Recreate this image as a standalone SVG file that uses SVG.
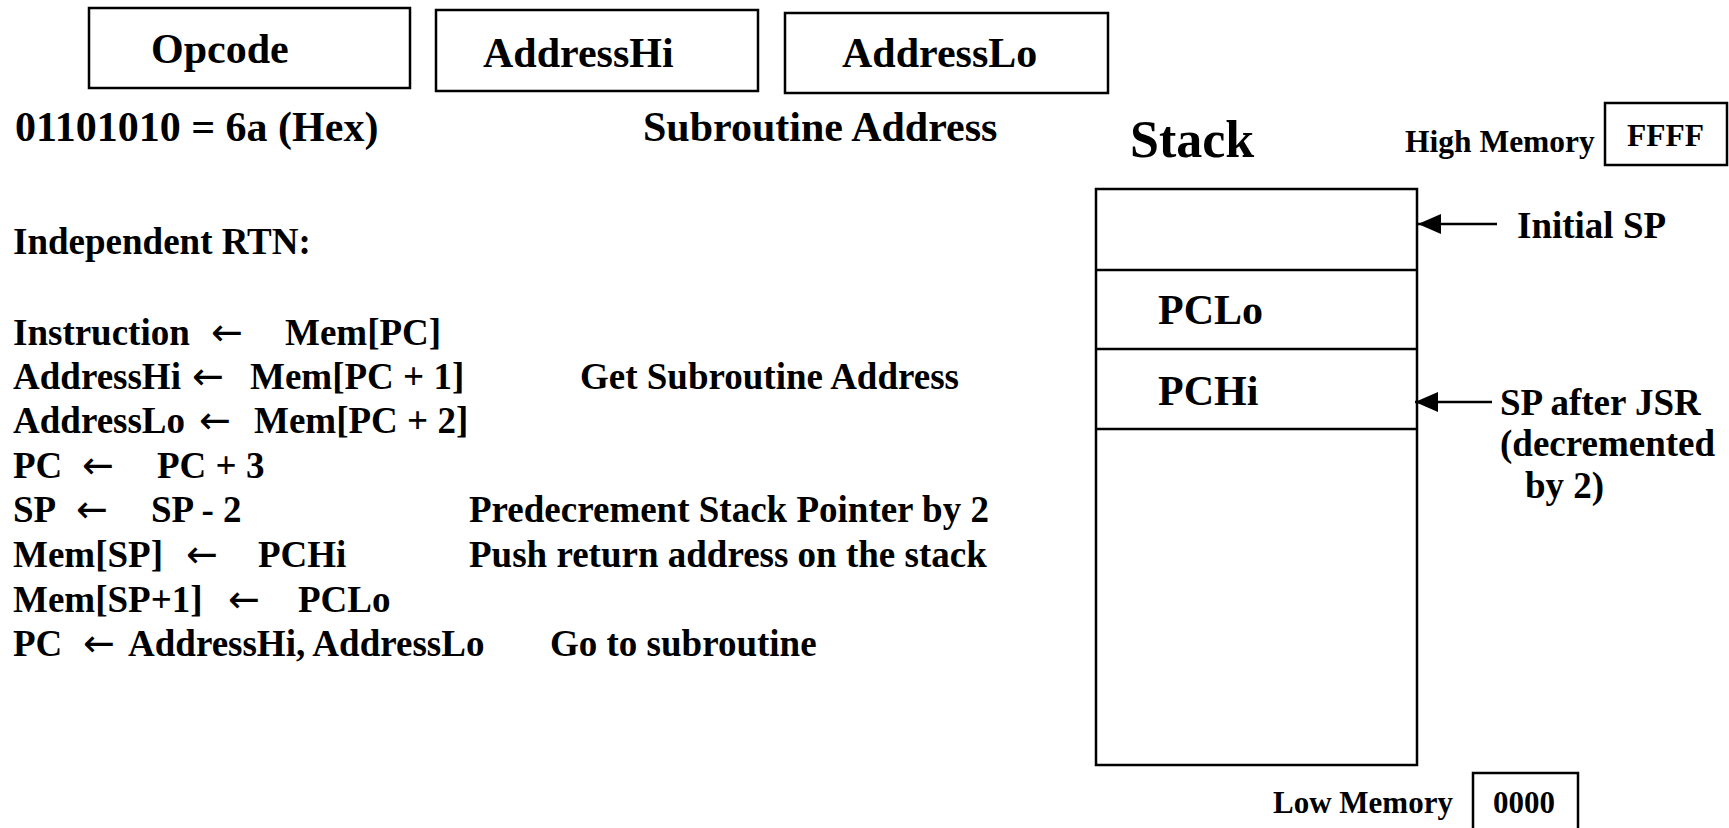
<svg xmlns="http://www.w3.org/2000/svg" width="1729" height="828" viewBox="0 0 1729 828">
<defs>
<style>
text{font-family:"Liberation Serif","Times New Roman",serif;font-weight:bold;fill:#000}
.t42{font-size:42px}
.t37{font-size:37px}
.t52{font-size:52px}
.t32{font-size:31.5px}
.t31{font-size:31px}
.arr{font-family:"DejaVu Sans",sans-serif;font-weight:normal;font-size:38px}
.box{fill:#fff;stroke:#000;stroke-width:2.5}
.ln{stroke:#000;stroke-width:2.5;fill:none}
</style>
<marker id="ah" viewBox="0 0 23 20" refX="23" refY="10" markerWidth="23" markerHeight="20" markerUnits="userSpaceOnUse" orient="auto">
<path d="M0,0 L23,10 L0,20 Z" fill="#000"/>
</marker>
</defs>
<rect width="1729" height="828" fill="#fff"/>

<g id="opcode">
<rect class="box" x="89" y="8" width="321" height="80"/>
<text class="t42" x="151" y="63">Opcode</text>
</g>
<g id="addressHi">
<rect class="box" x="436" y="10" width="322" height="81"/>
<text class="t42" x="483" y="67">AddressHi</text>
</g>
<g id="addressLo">
<rect class="box" x="785" y="13" width="323" height="80"/>
<text class="t42" x="842" y="67">AddressLo</text>
</g>
<g id="opcode-value">
<text class="t42" x="15" y="141">01101010 = 6a (Hex)</text>
</g>
<g id="subroutine-address">
<text class="t42" x="643" y="141">Subroutine Address</text>
</g>

<g id="rtn">
<text class="t37" x="13" y="254">Independent RTN:</text>
<text class="t37" x="13" y="345">Instruction</text><text class="arr" x="211" y="345">←</text><text class="t37" x="285" y="345">Mem[PC]</text>
<text class="t37" x="13" y="389">AddressHi</text><text class="arr" x="192" y="389">←</text><text class="t37" x="250" y="389">Mem[PC + 1]</text>
<text class="t37" x="580" y="389">Get Subroutine Address</text>
<text class="t37" x="13" y="433">AddressLo</text><text class="arr" x="199" y="433">←</text><text class="t37" x="254" y="433">Mem[PC + 2]</text>
<text class="t37" x="13" y="478">PC</text><text class="arr" x="82" y="478">←</text><text class="t37" x="157" y="478">PC + 3</text>
<text class="t37" x="13" y="522">SP</text><text class="arr" x="76" y="522">←</text><text class="t37" x="151" y="522">SP - 2</text>
<text class="t37" x="469" y="522">Predecrement Stack Pointer by 2</text>
<text class="t37" x="13" y="567">Mem[SP]</text><text class="arr" x="186" y="567">←</text><text class="t37" x="258" y="567">PCHi</text>
<text class="t37" x="469" y="567">Push return address on the stack</text>
<text class="t37" x="13" y="612">Mem[SP+1]</text><text class="arr" x="228" y="612">←</text><text class="t37" x="298" y="612">PCLo</text>
<text class="t37" x="13" y="656">PC</text><text class="arr" x="83" y="656">←</text><text class="t37" x="128" y="656">AddressHi, AddressLo</text>
<text class="t37" x="550" y="656">Go to subroutine</text>
</g>

<g id="stack-title">
<text class="t52" x="1130" y="157">Stack</text>
</g>
<g id="high-memory">
<text class="t32" x="1405" y="152">High Memory</text>
<rect class="box" x="1605" y="103" width="122" height="62"/>
<text class="t32" x="1627" y="146">FFFF</text>
</g>
<g id="stack">
<rect class="box" x="1096" y="189" width="321" height="576"/>
<line class="ln" x1="1096" y1="270" x2="1417" y2="270"/>
<line class="ln" x1="1096" y1="349" x2="1417" y2="349"/>
<line class="ln" x1="1096" y1="429" x2="1417" y2="429"/>
<text class="t42" x="1158" y="324">PCLo</text>
<text class="t42" x="1158" y="405">PCHi</text>
</g>
<g id="initial-sp">
<text class="t37" x="1517" y="238">Initial SP</text>
</g>
<g id="sp-after-jsr">
<text class="t37" x="1500" y="415">SP after JSR</text>
<text class="t37" x="1500" y="456">(decremented</text>
<text class="t37" x="1525" y="498">by 2)</text>
</g>
<g id="low-memory">
<text class="t31" x="1273" y="813">Low Memory</text>
<rect class="box" x="1473" y="773" width="105" height="70"/>
<text class="t31" x="1493" y="813">0000</text>
</g>

<g id="connectors">
<line class="ln" x1="1497" y1="224" x2="1418" y2="224" marker-end="url(#ah)"/>
<line class="ln" x1="1492" y1="402" x2="1415" y2="402" marker-end="url(#ah)"/>
</g>
</svg>
